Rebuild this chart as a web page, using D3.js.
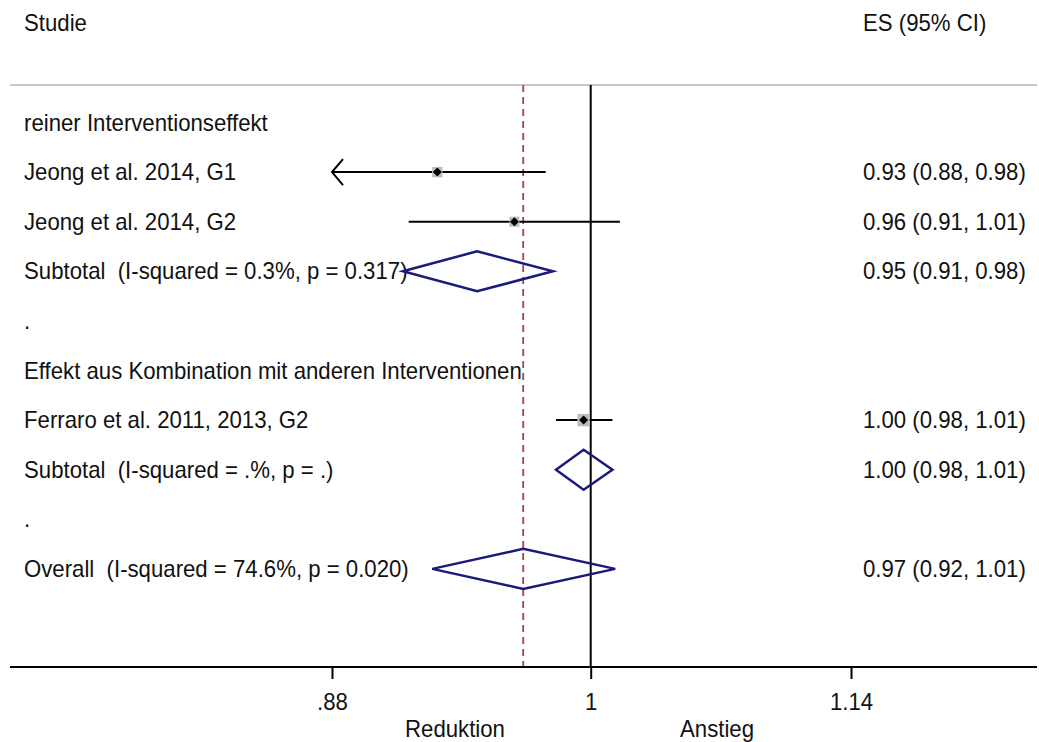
<!DOCTYPE html>
<html>
<head>
<meta charset="utf-8">
<script src="https://cdn.jsdelivr.net/npm/d3@7"></script>
<style>
  html, body { margin: 0; padding: 0; background: #fff; }
  svg { display: block; }
  text { font-family: "Liberation Sans", Arial, sans-serif; fill: #111; white-space: pre; }
</style>
</head>
<body>
<svg id="chart" width="1039" height="742"></svg>
<script>
// Forest plot rows (top to bottom)
const rowLabels = [
  "reiner Interventionseffekt",
  "Jeong et al. 2014, G1",
  "Jeong et al. 2014, G2",
  "Subtotal  (I-squared = 0.3%, p = 0.317)",
  ".",
  "Effekt aus Kombination mit anderen Interventionen",
  "Ferraro et al. 2011, 2013, G2",
  "Subtotal  (I-squared = .%, p = .)",
  ".",
  "Overall  (I-squared = 74.6%, p = 0.020)"
];
const rowTypes = ["group", "study", "study", "subtotal", "blank", "group", "study", "subtotal", "blank", "overall"];
const es     = [null, 0.927, 0.963, 0.9454, null, null, 0.9965, 0.9965, null, 0.9672];
const ciLow  = [null, 0.877, 0.914, 0.9114, null, null, 0.983,  0.983,  null, 0.9247];
const ciHigh = [null, 0.978, 1.0148, 0.9815, null, null, 1.011, 1.011,  null, 1.0124];
const weights = [null, 29.9, 28.0, null, null, null, 42.1, null, null, null];

const xTicks = [0.88, 1, 1.14];
const xTickLabels = [".88", "1", "1.14"];
const headerLeft = "Studie";
const headerRight = "ES (95% CI)";
const sideLabels = ["Reduktion", "Anstieg"];

// Layout
const W = 1039, H = 742;
const plotLeft = 10, plotRight = 1037;
const topRule = 85, axisY = 667;
const firstRowY = 122.5, rowStep = 49.6;
const textLeft = 24, textRight = 863;
const fontSize = 23.2;
const squeeze = 0.957; // condensed lettering

const svg = d3.select("#chart");

// Log-scale effect axis (ratio measure)
const x = d3.scaleLog().domain(xTicks).range([332, 590.7, 851]);
const axisMin = xTicks[0];
const y = i => firstRowY + i * rowStep;
const fmt = d3.format(".2f");

function label(px, py, str, anchor = "start") {
  svg.append("text")
    .attr("transform", `translate(${px},${py}) scale(${squeeze},1)`)
    .attr("dy", "0.35em")
    .attr("text-anchor", anchor)
    .attr("font-size", fontSize)
    .text(str);
}

// Header
label(textLeft, y(-2), headerLeft);
label(textRight, y(-2), headerRight);

// Top rule
svg.append("line").attr("x1", plotLeft).attr("x2", plotRight)
  .attr("y1", topRule).attr("y2", topRule)
  .attr("stroke", "#c6c6c6").attr("stroke-width", 2);

// No-effect line
svg.append("line").attr("x1", x(1)).attr("x2", x(1))
  .attr("y1", topRule).attr("y2", axisY)
  .attr("stroke", "#000").attr("stroke-width", 2);

// Overall effect line (dashed)
const overallIdx = rowTypes.indexOf("overall");
svg.append("line").attr("x1", x(es[overallIdx])).attr("x2", x(es[overallIdx]))
  .attr("y1", topRule).attr("y2", axisY)
  .attr("stroke", "#a2454f").attr("stroke-width", 1.8)
  .attr("stroke-dasharray", "7,5");

// Row labels and estimate text
rowLabels.forEach((lab, i) => {
  label(textLeft, y(i), lab);
  if (es[i] != null) {
    label(textRight, y(i), `${fmt(es[i])} (${fmt(ciLow[i])}, ${fmt(ciHigh[i])})`);
  }
});

// Study estimates: CI lines, weight boxes, point markers
const boxSide = d3.scaleSqrt().domain([0, 42.1]).range([0, 12.3]);
rowTypes.forEach((t, i) => {
  if (t !== "study") return;
  const yy = y(i);
  const clipped = ciLow[i] < axisMin;
  const xl = x(Math.max(ciLow[i], axisMin));
  const xh = x(ciHigh[i]);
  svg.append("line").attr("x1", xl).attr("x2", xh).attr("y1", yy).attr("y2", yy)
    .attr("stroke", "#000").attr("stroke-width", 2);
  if (clipped) {
    svg.append("path")
      .attr("d", `M${xl + 11},${yy - 13} L${xl},${yy} L${xl + 11},${yy + 13}`)
      .attr("fill", "none").attr("stroke", "#000").attr("stroke-width", 2);
  }
  const s = boxSide(weights[i]);
  svg.append("rect").attr("x", x(es[i]) - s / 2).attr("y", yy - s / 2)
    .attr("width", s).attr("height", s).attr("fill", "#bdbdbd");
  const d = 4.5;
  const cx = x(es[i]);
  svg.append("path")
    .attr("d", `M${cx - d},${yy} L${cx},${yy - d} L${cx + d},${yy} L${cx},${yy + d} Z`)
    .attr("fill", "#000");
});

// Pooled estimates: diamonds
rowTypes.forEach((t, i) => {
  if (t !== "subtotal" && t !== "overall") return;
  const yy = y(i), h = 20;
  svg.append("path")
    .attr("d", `M${x(ciLow[i])},${yy} L${x(es[i])},${yy - h} L${x(ciHigh[i])},${yy} L${x(es[i])},${yy + h} Z`)
    .attr("fill", "none").attr("stroke", "#1a1a7a").attr("stroke-width", 2.5)
    .attr("stroke-linejoin", "miter");
});

// X axis
svg.append("line").attr("x1", plotLeft).attr("x2", plotRight)
  .attr("y1", axisY).attr("y2", axisY)
  .attr("stroke", "#000").attr("stroke-width", 1.8);

const axis = d3.axisBottom(x).tickValues(xTicks)
  .tickFormat((d, i) => xTickLabels[i]).tickSize(12).tickPadding(15);
const gAxis = svg.append("g").attr("transform", `translate(0,${axisY})`).call(axis);
gAxis.select(".domain").remove();
gAxis.attr("font-family", null).attr("font-size", null);
gAxis.selectAll(".tick line").attr("stroke", "#000").attr("stroke-width", 2);
gAxis.selectAll(".tick text").attr("font-size", fontSize).attr("fill", "#111")
  .attr("transform", `scale(${squeeze},1)`);

// Direction labels beneath axis
label(455, 729, sideLabels[0], "middle");
label(717, 729, sideLabels[1], "middle");
</script>
</body>
</html>
